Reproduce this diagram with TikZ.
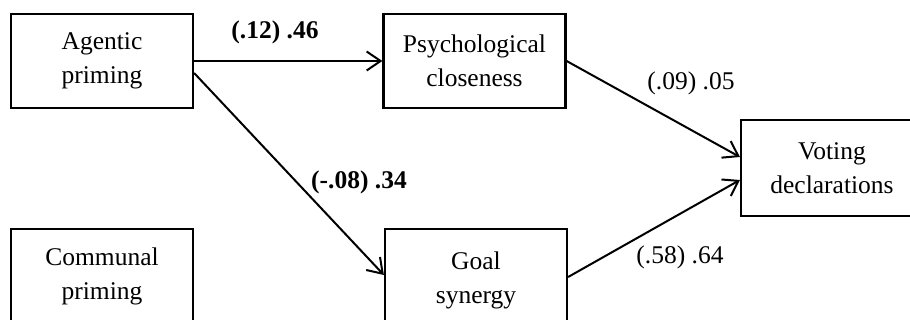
\documentclass[tikz,border=0pt]{standalone}
\usepackage{fontspec}
\setmainfont{Liberation Serif}
\usetikzlibrary{arrows.meta}
\begin{document}
\begin{tikzpicture}[x=1pt,y=-1pt,
  box/.style={draw,line width=2.2pt,rectangle,inner sep=0pt,align=center,
    minimum width=182pt,minimum height=94pt,
    font=\fontsize{25.5}{34}\selectfont},
  conn/.style={line width=2pt,-{Straight Barb[length=14pt,width=19pt,line width=2pt]}},
  lab/.style={font=\fontsize{25.5}{30}\selectfont,inner sep=0pt}]
\useasboundingbox (0,0) rectangle (910,320);
\clip (0,0) rectangle (910,320);
\node[box] (A) at (102,61) {Agentic\\priming};
\node[box] (P) at (474.5,61) {Psychological\\closeness};
\node[box,minimum height=96pt] (V) at (832,168) {Voting\\declarations};
\node[box] (C) at (102,276) {Communal\\priming};
\node[box,minimum height=102pt] (G) at (476,280) {Goal\\synergy};
\draw[conn] (A.east) -- (P.west);
\draw[conn] ([yshift=-12pt]A.east) -- ([yshift=5pt]G.west);
\draw[conn] (P.east) -- ([yshift=11pt]V.west);
\draw[conn] ([yshift=3pt]G.east) -- ([yshift=-12pt]V.west);
\node[lab,font=\fontsize{25.5}{30}\selectfont\bfseries] (l1) at (275,32) {(.12) .46};
\node[lab,font=\fontsize{25.5}{30}\selectfont\bfseries] (l2) at (359,182) {(-.08) .34};
\node[lab] (l3) at (691,83) {(.09) .05};
\node[lab] (l4) at (680,257) {(.58) .64};
\end{tikzpicture}
\end{document}
